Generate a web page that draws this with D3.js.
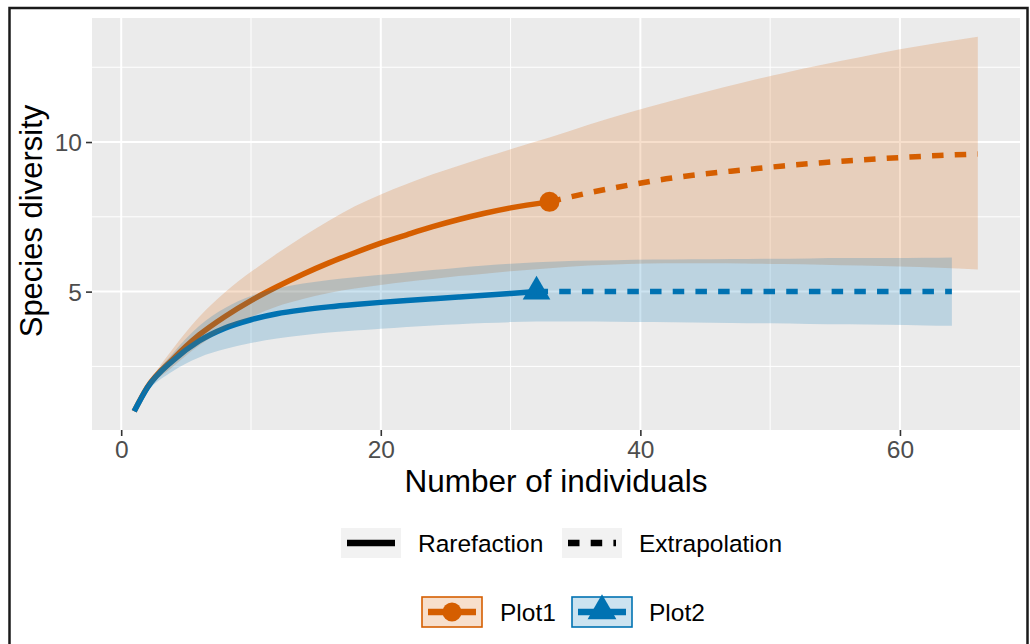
<!DOCTYPE html>
<html>
<head>
<meta charset="utf-8">
<script src="https://cdn.jsdelivr.net/npm/d3@7"></script>
<style>
  html, body { margin: 0; padding: 0; background: #ffffff; }
  svg { display: block; }
  text { font-family: "Liberation Sans", Arial, Helvetica, sans-serif; }
</style>
</head>
<body>
<svg id="chart" width="1030" height="644"></svg>
<script>
// ---------------- data ----------------
const assemblages = ["Plot1", "Plot2"];
const colors = ["#D55E00", "#0072B2"];

// Plot1 - rarefaction
const p1RareM   = [1, 2, 4, 6, 8, 10, 12, 14, 16, 18, 20, 22, 24, 26, 28, 30, 33];
const p1RareQD  = [1.0, 1.8, 2.75, 3.55, 4.17, 4.7, 5.16, 5.58, 5.96, 6.3, 6.62, 6.9, 7.17, 7.41, 7.62, 7.8, 8.0];
const p1RareLCL = [1.0, 1.7, 2.5, 3.2, 3.75, 4.15, 4.5, 4.75, 4.95, 5.1, 5.22, 5.33, 5.42, 5.52, 5.6, 5.68, 5.78];
const p1RareUCL = [1.0, 1.85, 3.1, 4.15, 4.98, 5.66, 6.27, 6.84, 7.37, 7.85, 8.25, 8.6, 8.92, 9.21, 9.49, 9.76, 10.15];
// Plot1 - extrapolation
const p1ExtM   = [33, 36, 39, 42, 45, 48, 51, 54, 57, 60, 63, 66];
const p1ExtQD  = [8.0, 8.3, 8.55, 8.77, 8.94, 9.07, 9.2, 9.31, 9.4, 9.48, 9.55, 9.6];
const p1ExtLCL = [5.78, 5.87, 5.92, 5.95, 5.95, 5.94, 5.92, 5.9, 5.87, 5.84, 5.8, 5.74];
const p1ExtUCL = [10.15, 10.58, 10.97, 11.33, 11.67, 12.0, 12.3, 12.58, 12.84, 13.1, 13.32, 13.52];

// Plot2 - rarefaction
const p2RareM   = [1, 2, 4, 6, 8, 10, 12, 14, 16, 18, 20, 22, 24, 26, 28, 30, 32];
const p2RareQD  = [1.0, 1.78, 2.7, 3.35, 3.78, 4.06, 4.26, 4.39, 4.49, 4.57, 4.64, 4.7, 4.76, 4.82, 4.88, 4.94, 5.0];
const p2RareLCL = [1.0, 1.65, 2.35, 2.8, 3.08, 3.28, 3.43, 3.54, 3.63, 3.7, 3.76, 3.82, 3.87, 3.91, 3.95, 3.98, 4.0];
const p2RareUCL = [1.0, 1.85, 2.95, 3.85, 4.45, 4.85, 5.1, 5.27, 5.39, 5.48, 5.56, 5.64, 5.72, 5.8, 5.87, 5.93, 5.98];
// Plot2 - extrapolation
const p2ExtM   = [32, 35, 38, 41, 44, 47, 50, 53, 56, 59, 62, 64];
const p2ExtQD  = [5.0, 5.0, 5.0, 5.0, 5.0, 5.0, 5.0, 5.0, 5.0, 5.0, 5.0, 5.0];
const p2ExtLCL = [4.0, 4.0, 3.99, 3.98, 3.97, 3.95, 3.94, 3.92, 3.91, 3.89, 3.87, 3.86];
const p2ExtUCL = [5.98, 6.03, 6.05, 6.07, 6.08, 6.09, 6.1, 6.11, 6.12, 6.12, 6.13, 6.14];

// observed points
const obsM  = [33, 32];
const obsQD = [8.0, 5.0];

const xTicks = [0, 20, 40, 60];
const xMinor = [10, 30, 50];
const yTicks = [5, 10];
const yMinor = [2.5, 7.5, 12.5];
const xTitle = "Number of individuals";
const yTitle = "Species diversity";
const lineTypes = ["Rarefaction", "Extrapolation"];

// ---------------- build ----------------
function zip(m, qd, l, u) { return m.map((v, i) => ({ m: v, qD: qd[i], lcl: l[i], ucl: u[i] })); }
const series = [
  { name: assemblages[0], color: colors[0], rare: zip(p1RareM, p1RareQD, p1RareLCL, p1RareUCL), ext: zip(p1ExtM, p1ExtQD, p1ExtLCL, p1ExtUCL), obs: { m: obsM[0], qD: obsQD[0] }, shape: "circle" },
  { name: assemblages[1], color: colors[1], rare: zip(p2RareM, p2RareQD, p2RareLCL, p2RareUCL), ext: zip(p2ExtM, p2ExtQD, p2ExtLCL, p2ExtUCL), obs: { m: obsM[1], qD: obsQD[1] }, shape: "triangle" }
];

const panel = { left: 92, right: 1020, top: 18, bottom: 430 };

const allM = series.flatMap(s => s.rare.concat(s.ext).map(d => d.m));
const allY = series.flatMap(s => s.rare.concat(s.ext).flatMap(d => [d.lcl, d.ucl, d.qD]));
const xExt = d3.extent(allM), yExt = d3.extent(allY);
const xPad = (xExt[1] - xExt[0]) * 0.05, yPad = (yExt[1] - yExt[0]) * 0.05;

const x = d3.scaleLinear().domain([xExt[0] - xPad, xExt[1] + xPad]).range([panel.left, panel.right]);
const y = d3.scaleLinear().domain([yExt[0] - yPad, yExt[1] + yPad]).range([panel.bottom, panel.top]);

const svg = d3.select("#chart");

// outer frame
svg.append("path")
  .attr("d", `M9.5,660 L9.5,8 L1027.5,8 L1027.5,660`)
  .attr("fill", "none").attr("stroke", "#1a1a1a").attr("stroke-width", 2.5);

// panel background
svg.append("rect")
  .attr("x", panel.left).attr("y", panel.top)
  .attr("width", panel.right - panel.left).attr("height", panel.bottom - panel.top)
  .attr("fill", "#EBEBEB");

const grid = svg.append("g");
grid.selectAll(".ymin").data(yMinor).join("line")
  .attr("x1", panel.left).attr("x2", panel.right)
  .attr("y1", d => y(d)).attr("y2", d => y(d))
  .attr("stroke", "#ffffff").attr("stroke-width", 1);
grid.selectAll(".xmin").data(xMinor).join("line")
  .attr("y1", panel.top).attr("y2", panel.bottom)
  .attr("x1", d => x(d)).attr("x2", d => x(d))
  .attr("stroke", "#ffffff").attr("stroke-width", 1);
grid.selectAll(".ymaj").data(yTicks).join("line")
  .attr("x1", panel.left).attr("x2", panel.right)
  .attr("y1", d => y(d)).attr("y2", d => y(d))
  .attr("stroke", "#ffffff").attr("stroke-width", 2);
grid.selectAll(".xmaj").data(xTicks).join("line")
  .attr("y1", panel.top).attr("y2", panel.bottom)
  .attr("x1", d => x(d)).attr("x2", d => x(d))
  .attr("stroke", "#ffffff").attr("stroke-width", 2);

const curve = d3.curveMonotoneX;
const lineGen = d3.line().x(d => x(d.m)).y(d => y(d.qD)).curve(curve);
const areaGen = d3.area().x(d => x(d.m)).y0(d => y(d.lcl)).y1(d => y(d.ucl)).curve(curve);

// points
const pts = svg.append("g");
series.forEach(s => {
  if (s.shape === "circle") {
    pts.append("circle").attr("cx", x(s.obs.m)).attr("cy", y(s.obs.qD)).attr("r", 10).attr("fill", s.color);
  } else {
    pts.append("path").attr("d", d3.symbol(d3.symbolTriangle, 330)())
      .attr("transform", `translate(${x(s.obs.m)},${y(s.obs.qD)})`).attr("fill", s.color);
  }
});

// lines
const lines = svg.append("g");
series.forEach(s => {
  lines.append("path").attr("d", lineGen(s.rare)).attr("fill", "none")
    .attr("stroke", s.color).attr("stroke-width", 5.5);
  lines.append("path").attr("d", lineGen(s.ext)).attr("fill", "none")
    .attr("stroke", s.color).attr("stroke-width", 5.5).attr("stroke-dasharray", "11.5,11.2");
});

// ribbons (drawn on top, alpha 0.2)
const rib = svg.append("g");
series.forEach(s => {
  const all = s.rare.concat(s.ext.slice(1));
  rib.append("path").attr("d", areaGen(all)).attr("fill", s.color).attr("fill-opacity", 0.2);
});

// axes
const xAxis = svg.append("g").attr("transform", `translate(0,${panel.bottom})`)
  .call(d3.axisBottom(x).tickValues(xTicks).tickSize(6).tickFormat(d3.format("d")));
xAxis.select(".domain").remove();
xAxis.selectAll(".tick line").attr("stroke", "#333333").attr("stroke-width", 1.6);
xAxis.selectAll(".tick text").attr("y", 28).attr("dy", null)
  .attr("fill", "#4D4D4D").style("font-size", "24.5px").style("font-family", '"Liberation Sans", Arial, sans-serif');

const yAxis = svg.append("g").attr("transform", `translate(${panel.left},0)`)
  .call(d3.axisLeft(y).tickValues(yTicks).tickSize(6).tickPadding(4).tickFormat(d3.format("d")));
yAxis.select(".domain").remove();
yAxis.selectAll(".tick line").attr("stroke", "#333333").attr("stroke-width", 1.6);
yAxis.selectAll(".tick text").attr("dy", "0.35em")
  .attr("fill", "#4D4D4D").style("font-size", "24.5px").style("font-family", '"Liberation Sans", Arial, sans-serif');

// titles
svg.append("text").attr("x", (panel.left + panel.right) / 2).attr("y", 492)
  .attr("text-anchor", "middle").attr("fill", "#000").style("font-size", "31.5px").text(xTitle);
svg.append("text").attr("transform", `translate(42,${(panel.top + panel.bottom) / 2 - 3}) rotate(-90)`)
  .attr("text-anchor", "middle").attr("fill", "#000").style("font-size", "31px").text(yTitle);

// legend 1: line types
const leg1 = svg.append("g");
const leg1Keys = [{ x: 341, dash: null, label: lineTypes[0], tx: 418 }, { x: 562, dash: "11.5,11.2", label: lineTypes[1], tx: 639 }];
leg1Keys.forEach(k => {
  leg1.append("rect").attr("x", k.x).attr("y", 528).attr("width", 60).attr("height", 30).attr("fill", "#F2F2F2");
  const l = leg1.append("line").attr("x1", k.x + 6).attr("x2", k.x + 54).attr("y1", 543).attr("y2", 543)
    .attr("stroke", "#000").attr("stroke-width", 6.5);
  if (k.dash) l.attr("stroke-dasharray", k.dash);
  leg1.append("text").attr("x", k.tx).attr("y", 552).attr("fill", "#000").style("font-size", "24.5px").text(k.label);
});

// legend 2: assemblages
const leg2 = svg.append("g");
const leg2Keys = [{ x: 422, tx: 500 }, { x: 572, tx: 649 }];
series.forEach((s, i) => {
  const k = leg2Keys[i];
  const cy = 612;
  leg2.append("rect").attr("x", k.x).attr("y", 597).attr("width", 60).attr("height", 30)
    .attr("fill", s.color).attr("fill-opacity", 0.2).attr("stroke", s.color).attr("stroke-width", 1.6);
  leg2.append("line").attr("x1", k.x + 6).attr("x2", k.x + 54).attr("y1", cy).attr("y2", cy)
    .attr("stroke", s.color).attr("stroke-width", 6.5);
  if (s.shape === "circle") {
    leg2.append("circle").attr("cx", k.x + 30).attr("cy", cy).attr("r", 9.5).attr("fill", s.color);
  } else {
    leg2.append("path").attr("d", d3.symbol(d3.symbolTriangle, 360)())
      .attr("transform", `translate(${k.x + 30},${cy - 1})`).attr("fill", s.color);
  }
  leg2.append("text").attr("x", k.tx).attr("y", 621).attr("fill", "#000").style("font-size", "24.5px").text(s.name);
});
</script>
</body>
</html>
